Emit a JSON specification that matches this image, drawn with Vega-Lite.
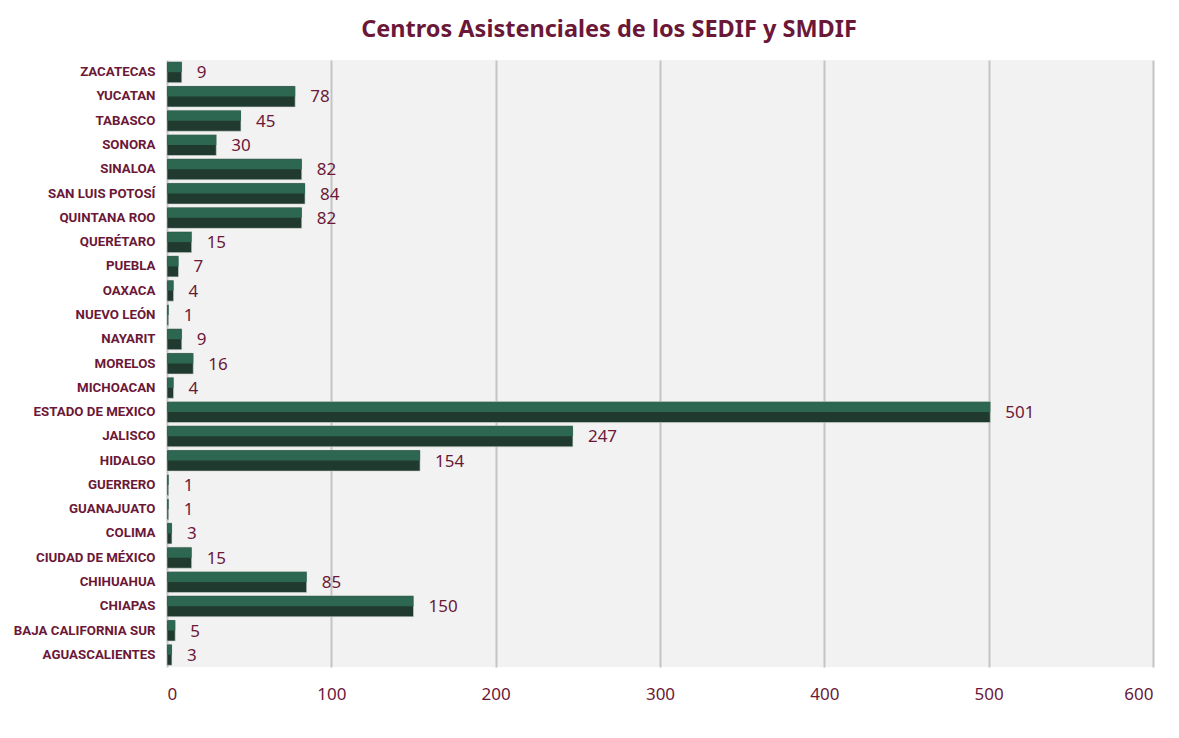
{
  "$schema": "https://vega.github.io/schema/vega-lite/v6.json",
  "width": 986,
  "height": 607,
  "padding": {"left": 13, "top": 17, "right": 25, "bottom": 10},
  "background": "white",
  "title": {
    "text": "Centros Asistenciales  de los SEDIF y SMDIF",
    "font": "Noto Sans",
    "fontSize": 23.5,
    "fontWeight": "bold",
    "color": "#6b1838",
    "anchor": "middle",
    "dx": -51,
    "offset": 19
  },
  "data": {
    "values": [
      {"estado": "ZACATECAS", "valor": 9},
      {"estado": "YUCATAN", "valor": 78},
      {"estado": "TABASCO", "valor": 45},
      {"estado": "SONORA", "valor": 30},
      {"estado": "SINALOA", "valor": 82},
      {"estado": "SAN LUIS POTOSÍ", "valor": 84},
      {"estado": "QUINTANA ROO", "valor": 82},
      {"estado": "QUERÉTARO", "valor": 15},
      {"estado": "PUEBLA", "valor": 7},
      {"estado": "OAXACA", "valor": 4},
      {"estado": "NUEVO LEÓN", "valor": 1},
      {"estado": "NAYARIT", "valor": 9},
      {"estado": "MORELOS", "valor": 16},
      {"estado": "MICHOACAN", "valor": 4},
      {"estado": "ESTADO DE MEXICO", "valor": 501},
      {"estado": "JALISCO", "valor": 247},
      {"estado": "HIDALGO", "valor": 154},
      {"estado": "GUERRERO", "valor": 1},
      {"estado": "GUANAJUATO", "valor": 1},
      {"estado": "COLIMA", "valor": 3},
      {"estado": "CIUDAD DE MÉXICO", "valor": 15},
      {"estado": "CHIHUAHUA", "valor": 85},
      {"estado": "CHIAPAS", "valor": 150},
      {"estado": "BAJA CALIFORNIA SUR", "valor": 5},
      {"estado": "AGUASCALIENTES", "valor": 3}
    ]
  },
  "encoding": {
    "y": {
      "field": "estado",
      "type": "nominal",
      "sort": null,
      "scale": {"paddingInner": 0.135, "paddingOuter": 0.07},
      "axis": {
        "title": null,
        "domain": false,
        "ticks": false,
        "grid": false,
        "labelFont": "Roboto",
        "labelFontWeight": "bold",
        "labelFontSize": 13.3,
        "labelColor": "#6b1838",
        "labelPadding": 12
      }
    },
    "x": {
      "field": "valor",
      "type": "quantitative",
      "scale": {"domain": [0, 600]},
      "axis": {
        "title": null,
        "domain": false,
        "ticks": false,
        "values": [0, 100, 200, 300, 400, 500, 600],
        "grid": true,
        "gridColor": "#c4c4c4",
        "gridWidth": 2,
        "labelFont": "Noto Sans",
        "labelFontSize": 17,
        "labelColor": "#6b1838",
        "labelPadding": 19
      }
    }
  },
  "layer": [
    {"mark": {"type": "bar", "color": "#213a30", "size": 21, "stroke": "#cfd6d2", "strokeWidth": 0.6}},
    {"mark": {"type": "bar", "color": "#2d6651", "size": 10, "yOffset": -5}},
    {
      "mark": {"type": "text", "align": "left", "baseline": "middle", "dx": 15, "dy": 1, "fontSize": 17, "color": "#6b1838", "font": "Noto Sans"},
      "encoding": {"text": {"field": "valor", "type": "quantitative"}}
    }
  ],
  "config": {"view": {"fill": "#f2f2f2", "stroke": null}}
}
